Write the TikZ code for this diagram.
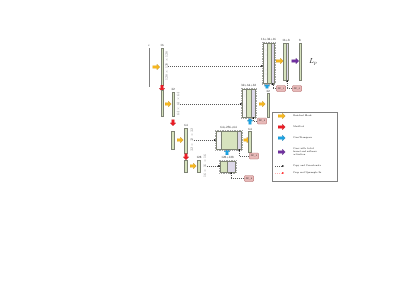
\documentclass[tikz,border=0pt]{standalone}
\usepackage{tikz}
\usetikzlibrary{positioning,fit,shapes.arrows,arrows.meta,patterns}
\definecolor{barGreen}{RGB}{215,227,190}
\definecolor{barEdge}{RGB}{125,130,115}
\definecolor{lavender}{RGB}{222,217,234}
\definecolor{sfPink}{RGB}{232,186,185}
\definecolor{resYellow}{RGB}{247,183,30}
\definecolor{poolRed}{RGB}{236,28,36}
\definecolor{upBlue}{RGB}{28,162,226}
\definecolor{outPurple}{RGB}{112,48,160}

\begin{document}
\begin{tikzpicture}[x=1mm, y=-1mm,
    every node/.style={font=\fontsize{9}{10}\selectfont, inner sep=0pt},
    bar/.style={draw=barEdge, fill=barGreen, line width=0.4pt, minimum width=2mm, anchor=north},
    skipbar/.style={bar, fill=white, pattern=dots, pattern color=gray!40},
    upbar/.style={bar, fill=lavender},
    group/.style={draw=gray!70, line width=0.3pt, dash pattern=on 1mm off 0.7mm, inner sep=0.8mm},
    fat/.style={single arrow, draw=#1!75!black, fill=#1, line width=0.3pt, minimum height=7mm,
        minimum width=5.6mm, single arrow head extend=1.4mm, inner sep=1.3mm},
    pointdown/.style={shape border rotate=270, minimum height=6mm},
    pointup/.style={shape border rotate=90, minimum height=6mm},
    dims/.style={rotate=90, text=gray!80!black, font=\fontsize{11}{12}\selectfont},
    cat/.style={gray!70!black, line width=0.3pt, dash pattern=on 1mm off 1mm, -{Stealth[length=2mm, width=1.6mm, black]}},
    crop/.style={red!30, line width=0.4pt, dash pattern=on 1.2mm off 0.8mm, -{Stealth[length=2mm, width=1.6mm, red]}},
    sf/.style={draw=red!30!gray, fill=sfPink, rounded corners=1mm, minimum width=9.5mm, minimum height=6mm, font=\fontsize{6.5}{7}\selectfont},
    legtxt/.style={font=\fontsize{7}{8.5}\selectfont, align=left}]
    \useasboundingbox (0,0) rectangle (405,295);

    % encoder
    \node[bar, minimum width=0.8mm, minimum height=38mm, fill=gray!40, draw=gray] (inp) at (149,48) {};
    \node[above=1mm of inp] (inplbl) {c};
    \node[fat=resYellow] (r1) at (155.5,67) {};
    \node[bar, minimum height=37mm] (e1) at (162,48) {};
    \node[above=1mm of e1] (e1lbl) {16};
    \node[dims] (t1) at (166.8,66) {128 $\times$ 128 $\times$ 128};
    \node[fat=poolRed, pointdown] (p1) at (162,87.5) {};

    \node[bar, minimum height=26mm] (e2a) at (162,90) {};
    \node[fat=resYellow, minimum height=6mm] (r2) at (167.5,104) {};
    \node[bar, minimum height=24mm, minimum width=2.5mm] (e2) at (173,92) {};
    \node[above=1mm of e2] (e2lbl) {32};
    \node[dims] (t2) at (178.3,104) {64 $\times$ 64 $\times$ 64};
    \node[fat=poolRed, pointdown] (p2) at (173,122) {};

    \node[bar, minimum height=18mm, minimum width=3mm] (e3a) at (173,131) {};
    \node[fat=resYellow, minimum height=6mm] (r3) at (179.5,140) {};
    \node[bar, minimum height=25mm, minimum width=3mm] (e3) at (186,128) {};
    \node[above=1mm of e3] (e3lbl) {64};
    \node[dims] (t3) at (192,140) {32 $\times$ 32 $\times$ 32};
    \node[fat=poolRed, pointdown] (p3) at (186,156) {};

    \node[bar, minimum height=12mm, minimum width=3mm] (e4a) at (186,160) {};
    \node[fat=resYellow, minimum height=6mm] (r4) at (192.5,166) {};
    \node[bar, minimum height=12mm, minimum width=3mm] (e4) at (199,160) {};
    \node[above=1mm of e4] (e4lbl) {128};
    \node[dims] (t4) at (205,166) {16 $\times$ 16 $\times$ 16};

    % decoder
    \node[bar, minimum height=11mm, minimum width=7mm] (d4g) at (223.5,161) {};
    \node[upbar, minimum height=11mm, minimum width=8mm, right=0mm of d4g] (d4v) {};
    \node[group, fit=(d4g)(d4v)] (d4) {};
    \node[above=0.8mm of d4] (d4lbl) {128+128};
    \node[fat=upBlue, pointup] (u3) at (227,152.5) {};

    \node[skipbar, minimum height=18mm, minimum width=5mm] (d3s) at (218.5,131) {};
    \node[bar, minimum height=18mm, minimum width=16mm, right=0mm of d3s] (d3g) {};
    \node[upbar, minimum height=18mm, minimum width=4mm, right=0mm of d3g] (d3v) {};
    \node[group, fit=(d3s)(d3v)] (d3) {};
    \node[above=0.8mm of d3] (d3lbl) {64+256+64};
    \node[fat=resYellow, minimum height=6mm] (r5) at (246,140) {};
    \node[bar, minimum height=21mm, minimum width=3mm] (d3b) at (250,131) {};
    \node[above=0.8mm of d3b] (d3blbl) {64};
    \node[fat=upBlue, pointup] (u2) at (250,122) {};

    \node[skipbar, minimum height=28mm, minimum width=4mm] (d2s) at (244,89) {};
    \node[bar, minimum height=28mm, minimum width=5mm, right=0mm of d2s] (d2g) {};
    \node[upbar, minimum height=28mm, minimum width=4mm, right=0mm of d2g] (d2v) {};
    \node[group, fit=(d2s)(d2v)] (d2) {};
    \node[above=0.8mm of d2] (d2lbl) {32+64+32};
    \node[fat=resYellow, minimum height=6mm] (r6) at (261.5,104) {};
    \node[bar, minimum height=24mm] (d2b) at (268,93) {};
    \node[above=0.5mm of d2b] (d2blbl) {32};
    \node[fat=upBlue, pointup, minimum height=5mm] (u1) at (267,86.5) {};

    \node[skipbar, minimum height=40mm, minimum width=4mm] (d1s) at (265,43) {};
    \node[bar, minimum height=40mm, minimum width=4mm, right=0mm of d1s] (d1g) {};
    \node[upbar, minimum height=40mm, minimum width=3mm, right=0mm of d1g] (d1v) {};
    \node[group, fit=(d1s)(d1v)] (d1) {};
    \node[above=0.8mm of d1] (d1lbl) {16+32+16};
    \node[fat=resYellow] (r7) at (279,61) {};
    \node[bar, minimum height=37mm, minimum width=3mm] (o1g) at (284.5,43) {};
    \node[upbar, minimum height=37mm, minimum width=2mm, right=0mm of o1g] (o1v) {};
    \node[above=1mm of o1g.north east] (o1lbl) {16+8};
    \node[fat=outPurple] (c1) at (294.5,61) {};
    \node[bar, minimum height=37mm, minimum width=1.5mm] (out) at (300,43) {};
    \node[above=1mm of out] (outlbl) {8};
    \node[font=\fontsize{20}{24}\selectfont] (lp) at (313,62) {$L_p$};

    % copy and concatenate
    \draw[cat] (t1.south) -- (t1.south -| d1s.west);
    \draw[cat] (t2.south) -- (t2.south -| d2s.west);
    \draw[cat] (t3.south) -- (t3.south -| d3s.west);
    \draw[cat] (t4.south) -- (t4.south -| d4g.west);

    % scale factors
    \node[sf] (sf4) at (249,178.5) {SF\_4};
    \node[sf] (sf3) at (254,156) {SF\_3};
    \node[sf] (sf2) at (262,121) {SF\_2};
    \node[sf] (sf1) at (281,88.5) {SF\_1};
    \node[sf] (sf0) at (297,88.5) {SF\_0};
    \draw[cat] (sf4.west) -| (d4v.south);
    \draw[cat] (sf3.west) -| (d3v.south);
    \draw[cat] (sf2.west) -| (d2v.south);
    \draw[cat] (sf1.west) -| (d1v.south);
    \draw[cat] (sf0.west) -| (o1v.south);

    % legend
    \node[draw=gray, minimum width=65mm, minimum height=69mm, anchor=north west] (legend) at (272,112) {};
    \node[fat=resYellow] (lg1) at (281,116) {};
    \node[legtxt, right=8mm of lg1] (lt1) {Residual Block};
    \node[fat=poolRed] (lg2) at (281,127) {};
    \node[legtxt, right=8mm of lg2] (lt2) {MaxPool};
    \node[fat=upBlue] (lg3) at (281,138) {};
    \node[legtxt, right=8mm of lg3] (lt3) {ConvTranspose};
    \node[fat=outPurple] (lg4) at (281,152) {};
    \node[legtxt, right=8mm of lg4] (lt4) {Conv with 1x1x1\\kernel and softmax\\activation};
    \coordinate (lc1) at (275,166);
    \coordinate (lc2) at (284,166);
    \draw[cat] (lc1) -- (lc2);
    \node[legtxt, anchor=west] (lt5) at (293,166) {Copy and Concatenate};
    \coordinate (lu1) at (275,173);
    \coordinate (lu2) at (284,173);
    \draw[crop] (lu1) -- (lu2);
    \node[legtxt, anchor=west] (lt6) at (293,173) {Crop and Upsample 2x};
\end{tikzpicture}
\end{document}
